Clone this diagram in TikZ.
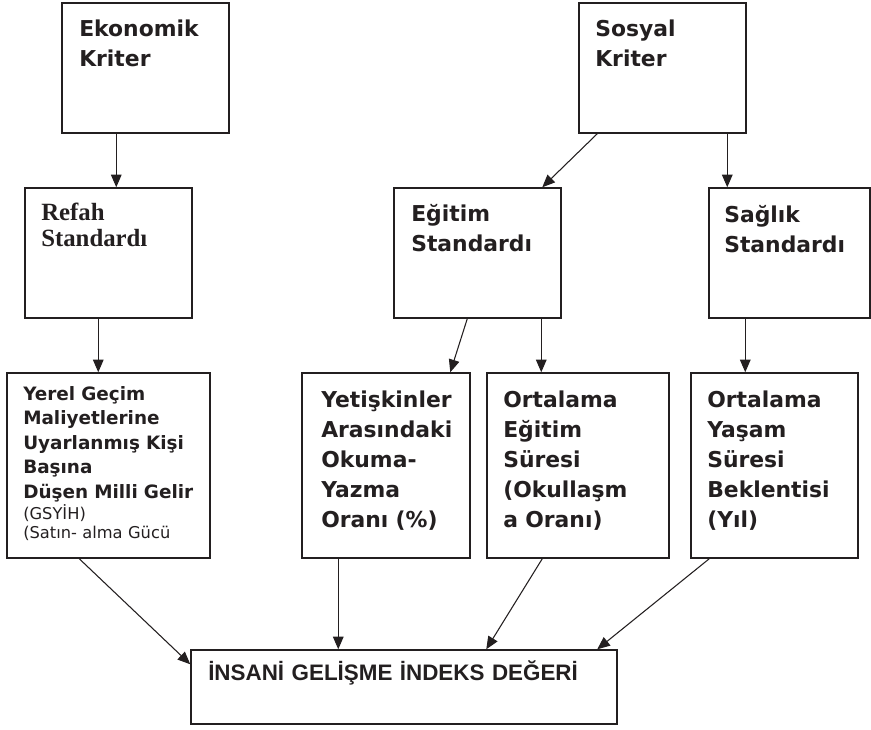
\documentclass[tikz,border=0pt]{standalone}
\usepackage{fontspec}
\newfontfamily\dvsans{DejaVu Sans}
\newfontfamily\libsans{Liberation Sans}
\newfontfamily\libserif{Liberation Serif}
\usetikzlibrary{arrows.meta,calc}
\definecolor{ink}{RGB}{35,31,32}
\begin{document}
\begin{tikzpicture}[x=0.75pt,y=-0.75pt,
  box/.style 2 args={draw=ink,line width=1.1pt,inner sep=0pt,minimum width=#1*0.75pt,minimum height=#2*0.75pt},
  arr/.style={draw=ink,line width=0.8pt,-{Triangle[length=9.5pt,width=8pt]}},
  txt/.style={anchor=base west,inner sep=0pt,align=left,text width=200pt,text=ink,font=\dvsans\bfseries\fontsize{16.4}{22.5}\selectfont}]
\useasboundingbox (0,0) rectangle (871,729);
% boxes
\node[box={167}{130}] (eko) at (145.5,68) {};
\node[box={167}{130}] (sos) at (662.5,68) {};
\node[box={167}{130}] (refah) at (108.5,253) {};
\node[box={167}{130}] (egit) at (477.5,253) {};
\node[box={161}{130}] (sag) at (789.5,253) {};
\node[box={203}{185}] (yerel) at (108.5,465.5) {};
\node[box={168}{185}] (yet) at (386,465.5) {};
\node[box={182}{185}] (ort1) at (578,465.5) {};
\node[box={167}{185}] (ort2) at (774.5,465.5) {};
\node[box={426}{74}] (ihd) at (404,687) {};
% texts
\node[txt] (ekot) at (79,36) {Ekonomik\\Kriter};
\node[txt] (sost) at (595,36) {Sosyal\\Kriter};
\node[txt,font=\libserif\bfseries\fontsize{18.6}{20}\selectfont] (refaht) at (41,220) {Refah\\Standardı};
\node[txt] (egitt) at (411,221) {Eğitim\\Standardı};
\node[txt] (sagt) at (724,222) {Sağlık\\Standardı};
\node[txt,font=\dvsans\bfseries\fontsize{13.8}{18.4}\selectfont] (yerelt) at (23,400) {Yerel Geçim\\Maliyetlerine\\Uyarlanmış Kişi\\Başına\\Düşen Milli Gelir};
\node[txt,font=\dvsans\fontsize{12.2}{14.25}\selectfont] (yerels) at (23,519) {(GSYİH)\\(Satın- alma Gücü};
\node[txt] (yett) at (321,407) {Yetişkinler\\Arasındaki\\Okuma-\\Yazma\\Oranı (\%)};
\node[txt] (ort1t) at (503,407) {Ortalama\\Eğitim\\Süresi\\(Okullaşm\\a Oranı)};
\node[txt] (ort2t) at (707,407) {Ortalama\\Yaşam\\Süresi\\Beklentisi\\(Yıl)};
\node[txt,text width=400pt,font=\libsans\bfseries\fontsize{16.8}{20}\selectfont] (ihdt) at (208,680) {İNSANİ GELİŞME İNDEKS DEĞERİ};
% connectors
\draw[arr] ($(eko.south west)+(55,0)$) -- ($(refah.north west)+(92,0)$);
\draw[arr] ($(sos.south west)+(19,0)$) -- ($(egit.north west)+(149,0)$);
\draw[arr] ($(sos.south west)+(149,0)$) -- ($(sag.north west)+(19,0)$);
\draw[arr] ($(refah.south west)+(74,0)$) -- ($(yerel.north west)+(92,0)$);
\draw[arr] ($(egit.south west)+(74,0)$) -- ($(yet.north west)+(149,0)$);
\draw[arr] ($(egit.south west)+(148,0)$) -- ($(ort1.north west)+(55,0)$);
\draw[arr] ($(sag.south west)+(37,0)$) -- ($(ort2.north west)+(55,0)$);
\draw[arr] ($(yerel.south west)+(73,0)$) -- ($(ihd.north west)+(0,15)$);
\draw[arr] ($(yet.south west)+(37,0)$) -- ($(ihd.north west)+(148,0)$);
\draw[arr] ($(ort1.south west)+(56,0)$) -- ($(ihd.north west)+(296,0)$);
\draw[arr] ($(ort2.south west)+(19,0)$) -- ($(ihd.north west)+(407,0)$);
\end{tikzpicture}
\end{document}
